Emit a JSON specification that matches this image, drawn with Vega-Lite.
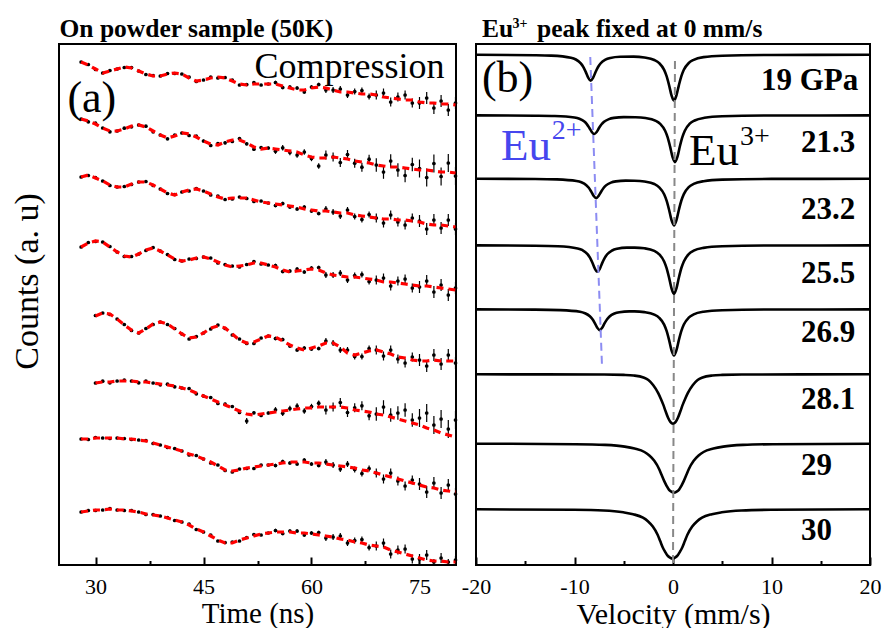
{
"$schema":"https://vega.github.io/schema/vega-lite/v6.json",
"background":"white",
"padding":{"left":9,"top":16,"right":5,"bottom":5},
"bounds":"flush",
"spacing":20,
"config":{"font":"Liberation Serif","view":{"stroke":"black","strokeWidth":2},
"axis":{"labelFont":"Liberation Serif","titleFont":"Liberation Serif","labelColor":"black","titleColor":"black","tickColor":"black","grid":false,"labelFontSize":22,"titleFontSize":30,"titleFontWeight":"normal"}},
"hconcat":[
{"width":397,"height":521,
"data":{"values":[
{"c":1,"t":28,"f":503,"o":503,"e":0.7},{"c":1,"t":29,"f":500,"o":500.5,"e":0.7},{"c":1,"t":30,"f":496,"o":495.5,"e":0.7},{"c":1,"t":31,"f":492,"o":492,"e":0.7},{"c":1,"t":32,"f":494,"o":494.5,"e":0.7},{"c":1,"t":33,"f":496,"o":496,"e":0.7},{"c":1,"t":34,"f":498,"o":497.5,"e":0.7},{"c":1,"t":35,"f":497,"o":497.5,"e":0.7},{"c":1,"t":36,"f":494,"o":494,"e":0.7},{"c":1,"t":37,"f":491,"o":490.5,"e":0.7},{"c":1,"t":38,"f":489,"o":489.5,"e":0.7},{"c":1,"t":39,"f":489,"o":489,"e":0.7},{"c":1,"t":40,"f":491,"o":491.5,"e":0.7},{"c":1,"t":41,"f":492,"o":491.5,"e":0.7},{"c":1,"t":42,"f":491,"o":491,"e":0.7},{"c":1,"t":43,"f":487,"o":488,"e":0.7},{"c":1,"t":44,"f":484,"o":483.5,"e":0.7},{"c":1,"t":45,"f":485,"o":485,"e":1},{"c":1,"t":46,"f":487,"o":488,"e":1},{"c":1,"t":47,"f":488,"o":487,"e":1},{"c":1,"t":48,"f":487,"o":487.5,"e":1},{"c":1,"t":49,"f":484,"o":485,"e":1},{"c":1,"t":50,"f":481,"o":480,"e":1},{"c":1,"t":51,"f":480,"o":480.5,"e":1},{"c":1,"t":52,"f":481,"o":482.5,"e":1},{"c":1,"t":53,"f":481,"o":480,"e":1},{"c":1,"t":54,"f":481,"o":481,"e":1},{"c":1,"t":55,"f":481,"o":482.5,"e":1.8},{"c":1,"t":56,"f":479,"o":477.5,"e":1.8},{"c":1,"t":57,"f":477,"o":478,"e":1.8},{"c":1,"t":58,"f":475,"o":477,"e":1.8},{"c":1,"t":59,"f":475,"o":473,"e":1.8},{"c":1,"t":60,"f":477,"o":478,"e":1.8},{"c":1,"t":61,"f":478,"o":480.5,"e":1.8},{"c":1,"t":62,"f":477,"o":475,"e":3},{"c":1,"t":63,"f":475,"o":475,"e":3},{"c":1,"t":64,"f":473,"o":476,"e":3},{"c":1,"t":65,"f":473,"o":470,"e":3},{"c":1,"t":66,"f":472,"o":473.5,"e":3},{"c":1,"t":67,"f":471,"o":474.5,"e":3},{"c":1,"t":68,"f":471,"o":468.5,"e":3},{"c":1,"t":69,"f":470,"o":470,"e":4.5},{"c":1,"t":70,"f":468,"o":472,"e":4.5},{"c":1,"t":71,"f":467,"o":463,"e":4.5},{"c":1,"t":72,"f":466,"o":468,"e":4.5},{"c":1,"t":73,"f":465,"o":470,"e":4.5},{"c":1,"t":74,"f":465,"o":462,"e":4.5},{"c":1,"t":75,"f":463,"o":462,"e":6},{"c":1,"t":76,"f":462,"o":467,"e":6},{"c":1,"t":77,"f":462,"o":457,"e":6},{"c":1,"t":78,"f":461,"o":464,"e":6},{"c":1,"t":79,"f":461,"o":455,"e":6},{"c":1,"t":80,"f":460,"o":462,"e":6},
{"c":2,"t":28,"f":446,"o":446,"e":1},{"c":2,"t":29,"f":444,"o":443.2,"e":1},{"c":2,"t":30,"f":441,"o":441.8,"e":1},{"c":2,"t":31,"f":437,"o":437,"e":1},{"c":2,"t":32,"f":434,"o":433.2,"e":1},{"c":2,"t":33,"f":434,"o":434,"e":1},{"c":2,"t":34,"f":436,"o":436.8,"e":1},{"c":2,"t":35,"f":439,"o":438.2,"e":1},{"c":2,"t":36,"f":440,"o":440,"e":1},{"c":2,"t":37,"f":438,"o":438.8,"e":1},{"c":2,"t":38,"f":434,"o":433.2,"e":1},{"c":2,"t":39,"f":430,"o":430,"e":1},{"c":2,"t":40,"f":427,"o":426.2,"e":1},{"c":2,"t":41,"f":429,"o":429.8,"e":1},{"c":2,"t":42,"f":432,"o":432,"e":1},{"c":2,"t":43,"f":431,"o":429.5,"e":1},{"c":2,"t":44,"f":428,"o":428.8,"e":1},{"c":2,"t":45,"f":424,"o":424,"e":1.5},{"c":2,"t":46,"f":421,"o":419.5,"e":1.5},{"c":2,"t":47,"f":420,"o":421.5,"e":1.5},{"c":2,"t":48,"f":423,"o":422.2,"e":1.5},{"c":2,"t":49,"f":425,"o":423.5,"e":1.5},{"c":2,"t":50,"f":425,"o":426.5,"e":1.5},{"c":2,"t":51,"f":422,"o":421.2,"e":1.5},{"c":2,"t":52,"f":418,"o":415.8,"e":1.5},{"c":2,"t":53,"f":416,"o":417.5,"e":1.5},{"c":2,"t":54,"f":417,"o":417,"e":1.5},{"c":2,"t":55,"f":416,"o":413.8,"e":2.7},{"c":2,"t":56,"f":415,"o":417.2,"e":2.7},{"c":2,"t":57,"f":414,"o":412.5,"e":2.7},{"c":2,"t":58,"f":413,"o":410,"e":2.7},{"c":2,"t":59,"f":410,"o":413,"e":2.7},{"c":2,"t":60,"f":408,"o":406.5,"e":2.7},{"c":2,"t":61,"f":407,"o":399,"e":2.7},{"c":2,"t":62,"f":407,"o":410,"e":4.5},{"c":2,"t":63,"f":408,"o":408,"e":4.5},{"c":2,"t":64,"f":407,"o":402.5,"e":4.5},{"c":2,"t":65,"f":406,"o":410.5,"e":4.5},{"c":2,"t":66,"f":404,"o":401.8,"e":4.5},{"c":2,"t":67,"f":403,"o":397.8,"e":4.5},{"c":2,"t":68,"f":402,"o":405.8,"e":4.5},{"c":2,"t":69,"f":400,"o":400,"e":6.8},{"c":2,"t":70,"f":399,"o":393,"e":6.8},{"c":2,"t":71,"f":398,"o":404,"e":6.8},{"c":2,"t":72,"f":398,"o":395,"e":6.8},{"c":2,"t":73,"f":397,"o":389.5,"e":6.8},{"c":2,"t":74,"f":396,"o":400.5,"e":6.8},{"c":2,"t":75,"f":395,"o":396.5,"e":9},{"c":2,"t":76,"f":395,"o":387.5,"e":9},{"c":2,"t":77,"f":394,"o":401.5,"e":9},{"c":2,"t":78,"f":393,"o":388.5,"e":9},{"c":2,"t":79,"f":393,"o":402,"e":9},{"c":2,"t":80,"f":392,"o":389,"e":9},
{"c":3,"t":28,"f":388,"o":388,"e":0.7},{"c":3,"t":29,"f":390,"o":389.5,"e":0.7},{"c":3,"t":30,"f":387,"o":387.5,"e":0.7},{"c":3,"t":31,"f":384,"o":384,"e":0.7},{"c":3,"t":32,"f":380,"o":379.5,"e":0.7},{"c":3,"t":33,"f":378,"o":378,"e":0.7},{"c":3,"t":34,"f":378,"o":378.5,"e":0.7},{"c":3,"t":35,"f":381,"o":380.5,"e":0.7},{"c":3,"t":36,"f":383,"o":383,"e":0.7},{"c":3,"t":37,"f":383,"o":383.5,"e":0.7},{"c":3,"t":38,"f":380,"o":379.5,"e":0.7},{"c":3,"t":39,"f":376,"o":376,"e":0.7},{"c":3,"t":40,"f":372,"o":371.5,"e":0.7},{"c":3,"t":41,"f":370,"o":370.5,"e":0.7},{"c":3,"t":42,"f":373,"o":373,"e":0.7},{"c":3,"t":43,"f":375,"o":374,"e":0.7},{"c":3,"t":44,"f":376,"o":376.5,"e":0.7},{"c":3,"t":45,"f":374,"o":374,"e":1},{"c":3,"t":46,"f":371,"o":370,"e":1},{"c":3,"t":47,"f":368,"o":369,"e":1},{"c":3,"t":48,"f":366,"o":365.5,"e":1},{"c":3,"t":49,"f":367,"o":366,"e":1},{"c":3,"t":50,"f":367,"o":368,"e":1},{"c":3,"t":51,"f":367,"o":366.5,"e":1},{"c":3,"t":52,"f":365,"o":363.5,"e":1},{"c":3,"t":53,"f":363,"o":364,"e":1},{"c":3,"t":54,"f":362,"o":362,"e":1},{"c":3,"t":55,"f":361,"o":359.5,"e":1.8},{"c":3,"t":56,"f":360,"o":361.5,"e":1.8},{"c":3,"t":57,"f":359,"o":358,"e":1.8},{"c":3,"t":58,"f":358,"o":356,"e":1.8},{"c":3,"t":59,"f":356,"o":358,"e":1.8},{"c":3,"t":60,"f":355,"o":354,"e":1.8},{"c":3,"t":61,"f":354,"o":351.5,"e":1.8},{"c":3,"t":62,"f":354,"o":356,"e":3},{"c":3,"t":63,"f":353,"o":353,"e":3},{"c":3,"t":64,"f":352,"o":349,"e":3},{"c":3,"t":65,"f":352,"o":355,"e":3},{"c":3,"t":66,"f":350,"o":348.5,"e":3},{"c":3,"t":67,"f":349,"o":345.5,"e":3},{"c":3,"t":68,"f":348,"o":350.5,"e":3},{"c":3,"t":69,"f":347,"o":347,"e":4.5},{"c":3,"t":70,"f":346,"o":342,"e":4.5},{"c":3,"t":71,"f":346,"o":350,"e":4.5},{"c":3,"t":72,"f":345,"o":343,"e":4.5},{"c":3,"t":73,"f":345,"o":340,"e":4.5},{"c":3,"t":74,"f":344,"o":347,"e":4.5},{"c":3,"t":75,"f":343,"o":344,"e":6},{"c":3,"t":76,"f":341,"o":336,"e":6},{"c":3,"t":77,"f":340,"o":345,"e":6},{"c":3,"t":78,"f":340,"o":337,"e":6},{"c":3,"t":79,"f":339,"o":345,"e":6},{"c":3,"t":80,"f":338,"o":336,"e":6},
{"c":4,"t":28,"f":318,"o":318,"e":0.7},{"c":4,"t":29,"f":322,"o":322.5,"e":0.7},{"c":4,"t":30,"f":324,"o":323.5,"e":0.7},{"c":4,"t":31,"f":323,"o":323,"e":0.7},{"c":4,"t":32,"f":318,"o":318.5,"e":0.7},{"c":4,"t":33,"f":313,"o":313,"e":0.7},{"c":4,"t":34,"f":309,"o":308.5,"e":0.7},{"c":4,"t":35,"f":308,"o":308.5,"e":0.7},{"c":4,"t":36,"f":311,"o":311,"e":0.7},{"c":4,"t":37,"f":315,"o":314.5,"e":0.7},{"c":4,"t":38,"f":317,"o":317.5,"e":0.7},{"c":4,"t":39,"f":314,"o":314,"e":0.7},{"c":4,"t":40,"f":310,"o":310.5,"e":0.7},{"c":4,"t":41,"f":306,"o":305.5,"e":0.7},{"c":4,"t":42,"f":304,"o":304,"e":0.7},{"c":4,"t":43,"f":305,"o":306,"e":0.7},{"c":4,"t":44,"f":307,"o":306.5,"e":0.7},{"c":4,"t":45,"f":308,"o":308,"e":1},{"c":4,"t":46,"f":306,"o":307,"e":1},{"c":4,"t":47,"f":303,"o":302,"e":1},{"c":4,"t":48,"f":300,"o":300.5,"e":1},{"c":4,"t":49,"f":298,"o":299,"e":1},{"c":4,"t":50,"f":299,"o":298,"e":1},{"c":4,"t":51,"f":300,"o":300.5,"e":1},{"c":4,"t":52,"f":302,"o":303.5,"e":1},{"c":4,"t":53,"f":302,"o":301,"e":1},{"c":4,"t":54,"f":300,"o":300,"e":1},{"c":4,"t":55,"f":298,"o":299.5,"e":1.8},{"c":4,"t":56,"f":295,"o":293.5,"e":1.8},{"c":4,"t":57,"f":293,"o":294,"e":1.8},{"c":4,"t":58,"f":294,"o":296,"e":1.8},{"c":4,"t":59,"f":295,"o":293,"e":1.8},{"c":4,"t":60,"f":296,"o":297,"e":1.8},{"c":4,"t":61,"f":295,"o":297.5,"e":1.8},{"c":4,"t":62,"f":292,"o":290,"e":3},{"c":4,"t":63,"f":290,"o":290,"e":3},{"c":4,"t":64,"f":289,"o":292,"e":3},{"c":4,"t":65,"f":288,"o":285,"e":3},{"c":4,"t":66,"f":288,"o":289.5,"e":3},{"c":4,"t":67,"f":287,"o":290.5,"e":3},{"c":4,"t":68,"f":286,"o":283.5,"e":3},{"c":4,"t":69,"f":285,"o":285,"e":4.5},{"c":4,"t":70,"f":283,"o":287,"e":4.5},{"c":4,"t":71,"f":283,"o":279,"e":4.5},{"c":4,"t":72,"f":282,"o":284,"e":4.5},{"c":4,"t":73,"f":281,"o":286,"e":4.5},{"c":4,"t":74,"f":280,"o":277,"e":4.5},{"c":4,"t":75,"f":279,"o":278,"e":6},{"c":4,"t":76,"f":279,"o":284,"e":6},{"c":4,"t":77,"f":278,"o":273,"e":6},{"c":4,"t":78,"f":277,"o":280,"e":6},{"c":4,"t":79,"f":276,"o":270,"e":6},{"c":4,"t":80,"f":275,"o":277,"e":6},
{"c":5,"t":30,"f":249,"o":249.5,"e":0.7},{"c":5,"t":31,"f":252,"o":252,"e":0.7},{"c":5,"t":32,"f":251,"o":250.5,"e":0.7},{"c":5,"t":33,"f":246,"o":246,"e":0.7},{"c":5,"t":34,"f":240,"o":240.5,"e":0.7},{"c":5,"t":35,"f":235,"o":234.5,"e":0.7},{"c":5,"t":36,"f":232,"o":232,"e":0.7},{"c":5,"t":37,"f":236,"o":236.5,"e":0.7},{"c":5,"t":38,"f":241,"o":240.5,"e":0.7},{"c":5,"t":39,"f":243,"o":243,"e":0.7},{"c":5,"t":40,"f":241,"o":240.5,"e":0.7},{"c":5,"t":41,"f":236,"o":236.5,"e":0.7},{"c":5,"t":42,"f":231,"o":231,"e":0.7},{"c":5,"t":43,"f":227,"o":226,"e":0.7},{"c":5,"t":44,"f":228,"o":228.5,"e":0.7},{"c":5,"t":45,"f":232,"o":232,"e":1},{"c":5,"t":46,"f":237,"o":236,"e":1},{"c":5,"t":47,"f":239,"o":240,"e":1},{"c":5,"t":48,"f":237,"o":236.5,"e":1},{"c":5,"t":49,"f":231,"o":230,"e":1},{"c":5,"t":50,"f":225,"o":226,"e":1},{"c":5,"t":51,"f":222,"o":221.5,"e":1},{"c":5,"t":52,"f":223,"o":221.5,"e":1},{"c":5,"t":53,"f":226,"o":227,"e":1},{"c":5,"t":54,"f":229,"o":229,"e":1},{"c":5,"t":55,"f":228,"o":226.5,"e":1.8},{"c":5,"t":56,"f":224,"o":225.5,"e":1.8},{"c":5,"t":57,"f":220,"o":219,"e":1.8},{"c":5,"t":58,"f":217,"o":215,"e":1.8},{"c":5,"t":59,"f":215,"o":217,"e":1.8},{"c":5,"t":60,"f":217,"o":216,"e":1.8},{"c":5,"t":61,"f":219,"o":216.5,"e":1.8},{"c":5,"t":62,"f":222,"o":224,"e":3},{"c":5,"t":63,"f":222,"o":222,"e":3},{"c":5,"t":64,"f":218,"o":215,"e":3},{"c":5,"t":65,"f":212,"o":215,"e":3},{"c":5,"t":66,"f":210,"o":208.5,"e":3},{"c":5,"t":67,"f":212,"o":208.5,"e":3},{"c":5,"t":68,"f":214,"o":216.5,"e":3},{"c":5,"t":69,"f":215,"o":215,"e":4.5},{"c":5,"t":70,"f":213,"o":209,"e":4.5},{"c":5,"t":71,"f":211,"o":215,"e":4.5},{"c":5,"t":72,"f":208,"o":206,"e":4.5},{"c":5,"t":73,"f":207,"o":202,"e":4.5},{"c":5,"t":74,"f":205,"o":208,"e":4.5},{"c":5,"t":75,"f":204,"o":205,"e":6},{"c":5,"t":76,"f":204,"o":199,"e":6},{"c":5,"t":77,"f":205,"o":210,"e":6},{"c":5,"t":78,"f":204,"o":201,"e":6},{"c":5,"t":79,"f":204,"o":210,"e":6},{"c":5,"t":80,"f":204,"o":202,"e":6},
{"c":6,"t":30,"f":182,"o":182,"e":1},{"c":6,"t":31,"f":183,"o":183.8,"e":1},{"c":6,"t":32,"f":183,"o":182.2,"e":1},{"c":6,"t":33,"f":184,"o":184,"e":1},{"c":6,"t":34,"f":184,"o":184.8,"e":1},{"c":6,"t":35,"f":184,"o":184,"e":1},{"c":6,"t":36,"f":183,"o":182.2,"e":1},{"c":6,"t":37,"f":183,"o":183.8,"e":1},{"c":6,"t":38,"f":182,"o":182,"e":1},{"c":6,"t":39,"f":181,"o":180.2,"e":1},{"c":6,"t":40,"f":180,"o":180.8,"e":1},{"c":6,"t":41,"f":179,"o":178.2,"e":1},{"c":6,"t":42,"f":177,"o":177,"e":1},{"c":6,"t":43,"f":175,"o":176.5,"e":1},{"c":6,"t":44,"f":172,"o":171.2,"e":1},{"c":6,"t":45,"f":169,"o":169,"e":1.5},{"c":6,"t":46,"f":166,"o":167.5,"e":1.5},{"c":6,"t":47,"f":163,"o":161.5,"e":1.5},{"c":6,"t":48,"f":160,"o":160.8,"e":1.5},{"c":6,"t":49,"f":157,"o":158.5,"e":1.5},{"c":6,"t":50,"f":154,"o":152.5,"e":1.5},{"c":6,"t":51,"f":151,"o":144,"e":3},{"c":6,"t":52,"f":150,"o":152.2,"e":1.5},{"c":6,"t":53,"f":151,"o":149.5,"e":1.5},{"c":6,"t":54,"f":152,"o":152,"e":1.5},{"c":6,"t":55,"f":153,"o":155.2,"e":2.7},{"c":6,"t":56,"f":154,"o":151.8,"e":2.7},{"c":6,"t":57,"f":155,"o":156.5,"e":2.7},{"c":6,"t":58,"f":156,"o":159,"e":2.7},{"c":6,"t":59,"f":157,"o":154,"e":2.7},{"c":6,"t":60,"f":157,"o":158.5,"e":2.7},{"c":6,"t":61,"f":158,"o":161.8,"e":2.7},{"c":6,"t":62,"f":158,"o":155,"e":4.5},{"c":6,"t":63,"f":158,"o":158,"e":4.5},{"c":6,"t":64,"f":158,"o":162.5,"e":4.5},{"c":6,"t":65,"f":157,"o":152.5,"e":4.5},{"c":6,"t":66,"f":155,"o":157.2,"e":4.5},{"c":6,"t":67,"f":154,"o":159.2,"e":4.5},{"c":6,"t":68,"f":153,"o":149.2,"e":4.5},{"c":6,"t":69,"f":151,"o":151,"e":6.8},{"c":6,"t":70,"f":150,"o":158,"e":6.8},{"c":6,"t":71,"f":148,"o":150,"e":6.8},{"c":6,"t":72,"f":146,"o":152,"e":6.8},{"c":6,"t":73,"f":144,"o":155,"e":6.8},{"c":6,"t":74,"f":142,"o":145,"e":6.8},{"c":6,"t":75,"f":140,"o":147,"e":9},{"c":6,"t":76,"f":137,"o":152,"e":9},{"c":6,"t":77,"f":135,"o":140,"e":9},{"c":6,"t":78,"f":132,"o":146,"e":9},{"c":6,"t":79,"f":130,"o":136,"e":9},{"c":6,"t":80,"f":128,"o":145,"e":9},
{"c":7,"t":28,"f":126,"o":126,"e":0.7},{"c":7,"t":29,"f":126,"o":125.5,"e":0.7},{"c":7,"t":30,"f":127,"o":127.5,"e":0.7},{"c":7,"t":31,"f":127,"o":127,"e":0.7},{"c":7,"t":32,"f":127,"o":126.5,"e":0.7},{"c":7,"t":33,"f":127,"o":127,"e":0.7},{"c":7,"t":34,"f":126,"o":126.5,"e":0.7},{"c":7,"t":35,"f":126,"o":125.5,"e":0.7},{"c":7,"t":36,"f":125,"o":125,"e":0.7},{"c":7,"t":37,"f":124,"o":124.5,"e":0.7},{"c":7,"t":38,"f":122,"o":121.5,"e":0.7},{"c":7,"t":39,"f":120,"o":120,"e":0.7},{"c":7,"t":40,"f":118,"o":117.5,"e":0.7},{"c":7,"t":41,"f":116,"o":116.5,"e":0.7},{"c":7,"t":42,"f":114,"o":114,"e":0.7},{"c":7,"t":43,"f":111,"o":110,"e":0.7},{"c":7,"t":44,"f":109,"o":109.5,"e":0.7},{"c":7,"t":45,"f":106,"o":106,"e":1},{"c":7,"t":46,"f":103,"o":102,"e":1},{"c":7,"t":47,"f":99,"o":100,"e":1},{"c":7,"t":48,"f":95,"o":94.5,"e":1},{"c":7,"t":49,"f":94,"o":93,"e":1},{"c":7,"t":50,"f":95,"o":96,"e":1},{"c":7,"t":51,"f":97,"o":96.5,"e":1},{"c":7,"t":52,"f":98,"o":96.5,"e":1},{"c":7,"t":53,"f":99,"o":100,"e":1},{"c":7,"t":54,"f":100,"o":100,"e":1},{"c":7,"t":55,"f":101,"o":99.5,"e":1.8},{"c":7,"t":56,"f":102,"o":103.5,"e":1.8},{"c":7,"t":57,"f":103,"o":102,"e":1.8},{"c":7,"t":58,"f":103,"o":101,"e":1.8},{"c":7,"t":59,"f":103,"o":105,"e":1.8},{"c":7,"t":60,"f":102,"o":101,"e":1.8},{"c":7,"t":61,"f":102,"o":99.5,"e":1.8},{"c":7,"t":62,"f":101,"o":103,"e":3},{"c":7,"t":63,"f":100,"o":100,"e":3},{"c":7,"t":64,"f":99,"o":96,"e":3},{"c":7,"t":65,"f":98,"o":101,"e":3},{"c":7,"t":66,"f":97,"o":95.5,"e":3},{"c":7,"t":67,"f":95,"o":91.5,"e":3},{"c":7,"t":68,"f":94,"o":96.5,"e":3},{"c":7,"t":69,"f":92,"o":92,"e":4.5},{"c":7,"t":70,"f":90,"o":86,"e":4.5},{"c":7,"t":71,"f":88,"o":92,"e":4.5},{"c":7,"t":72,"f":86,"o":84,"e":4.5},{"c":7,"t":73,"f":84,"o":79,"e":4.5},{"c":7,"t":74,"f":82,"o":85,"e":4.5},{"c":7,"t":75,"f":80,"o":81,"e":6},{"c":7,"t":76,"f":78,"o":73,"e":6},{"c":7,"t":77,"f":77,"o":82,"e":6},{"c":7,"t":78,"f":75,"o":72,"e":6},{"c":7,"t":79,"f":74,"o":80,"e":6},{"c":7,"t":80,"f":73,"o":71,"e":6},
{"c":8,"t":28,"f":53,"o":53,"e":0.7},{"c":8,"t":29,"f":54,"o":54.5,"e":0.7},{"c":8,"t":30,"f":55,"o":54.5,"e":0.7},{"c":8,"t":31,"f":55,"o":55,"e":0.7},{"c":8,"t":32,"f":56,"o":56.5,"e":0.7},{"c":8,"t":33,"f":55,"o":55,"e":0.7},{"c":8,"t":34,"f":55,"o":54.5,"e":0.7},{"c":8,"t":35,"f":54,"o":54.5,"e":0.7},{"c":8,"t":36,"f":53,"o":53,"e":0.7},{"c":8,"t":37,"f":51,"o":50.5,"e":0.7},{"c":8,"t":38,"f":50,"o":50.5,"e":0.7},{"c":8,"t":39,"f":49,"o":49,"e":0.7},{"c":8,"t":40,"f":47,"o":47.5,"e":0.7},{"c":8,"t":41,"f":45,"o":44.5,"e":0.7},{"c":8,"t":42,"f":43,"o":43,"e":0.7},{"c":8,"t":43,"f":40,"o":41,"e":0.7},{"c":8,"t":44,"f":36,"o":35.5,"e":0.7},{"c":8,"t":45,"f":33,"o":33,"e":1},{"c":8,"t":46,"f":29,"o":30,"e":1},{"c":8,"t":47,"f":25,"o":24,"e":1},{"c":8,"t":48,"f":22,"o":22.5,"e":1},{"c":8,"t":49,"f":22,"o":23,"e":1},{"c":8,"t":50,"f":25,"o":24,"e":1},{"c":8,"t":51,"f":27,"o":27.5,"e":1},{"c":8,"t":52,"f":29,"o":30.5,"e":1},{"c":8,"t":53,"f":31,"o":30,"e":1},{"c":8,"t":54,"f":32,"o":32,"e":1},{"c":8,"t":55,"f":33,"o":34.5,"e":1.8},{"c":8,"t":56,"f":33,"o":31.5,"e":1.8},{"c":8,"t":57,"f":33,"o":34,"e":1.8},{"c":8,"t":58,"f":32,"o":34,"e":1.8},{"c":8,"t":59,"f":32,"o":30,"e":1.8},{"c":8,"t":60,"f":31,"o":32,"e":1.8},{"c":8,"t":61,"f":30,"o":32.5,"e":1.8},{"c":8,"t":62,"f":29,"o":27,"e":3},{"c":8,"t":63,"f":28,"o":28,"e":3},{"c":8,"t":64,"f":26,"o":29,"e":3},{"c":8,"t":65,"f":25,"o":22,"e":3},{"c":8,"t":66,"f":23,"o":24.5,"e":3},{"c":8,"t":67,"f":22,"o":25.5,"e":3},{"c":8,"t":68,"f":20,"o":17.5,"e":3},{"c":8,"t":69,"f":19,"o":19,"e":4.5},{"c":8,"t":70,"f":18,"o":22,"e":4.5},{"c":8,"t":71,"f":15,"o":11,"e":4.5},{"c":8,"t":72,"f":13,"o":15,"e":4.5},{"c":8,"t":73,"f":11,"o":16,"e":4.5},{"c":8,"t":74,"f":9,"o":6,"e":4.5},{"c":8,"t":75,"f":7,"o":6,"e":5},{"c":8,"t":76,"f":5,"o":10,"e":5},{"c":8,"t":77,"f":4,"o":3,"e":3},{"c":8,"t":78,"f":4,"o":7,"e":5},{"c":8,"t":79,"f":3,"o":3,"e":3},{"c":8,"t":80,"f":3,"o":5,"e":4}
]},
"encoding":{
"x":{"field":"t","type":"quantitative","scale":{"domain":[24.93,80.07],"nice":false,"zero":false},
"axis":{"title":"Time (ns)","values":[30,37.5,45,52.5,60,67.5,75],"labelExpr":"datum.value % 15 === 0 ? datum.label : ''","tickSize":{"condition":{"test":"datum.value % 15 === 0","value":-8},"value":-4.5},"tickWidth":2,"domain":false,"labelBaseline":"alphabetic","labelPadding":36,"labelFlush":false,"titleBaseline":"alphabetic","titleY":57,"titleFontSize":29}},
"y":{"field":"o","type":"quantitative","scale":{"domain":[0,521],"nice":false,"zero":false},
"axis":{"title":"Counts (a. u)","labels":false,"ticks":false,"domain":false,"titleFontSize":34,"titleX":-21.5,"titleY":237,"titleBaseline":"alphabetic","titleAngle":-90,"titleAlign":"center"}}
},
"layer":[
{"mark":{"type":"errorbar","color":"black","thickness":1.2},"encoding":{"yError":{"field":"e"}}},
{"mark":{"type":"circle","color":"black","size":14,"opacity":1}},
{"mark":{"type":"line","color":"#ff0000","strokeDash":[7,5],"strokeWidth":3.2},"encoding":{"y":{"field":"f","type":"quantitative","title":"Counts (a. u)"},"detail":{"field":"c"}}},
{"data":{"values":[{"t":26.1,"o":453,"txt":"(a)"}]},"mark":{"type":"text","align":"left","baseline":"alphabetic","fontSize":44,"font":"Liberation Serif","color":"black"},"encoding":{"text":{"field":"txt"}}},
{"data":{"values":[{"t":78.47,"o":487,"txt":"Compression"}]},"mark":{"type":"text","align":"right","baseline":"alphabetic","fontSize":36,"font":"Liberation Serif","color":"black"},"encoding":{"text":{"field":"txt"}}},
{"data":{"values":[{"t":25.0,"o":528,"txt":"On powder sample (50K)"}]},"mark":{"type":"text","align":"left","baseline":"alphabetic","fontSize":25.5,"fontWeight":"bold","font":"Liberation Serif","color":"black"},"encoding":{"text":{"field":"txt"}}}
]},
{"width":394,"height":521,
"data":{"values":[
{"s":1,"v":-20,"y":510.2},{"s":1,"v":-14,"y":509.8},{"s":1,"v":-12.36,"y":509.4},{"s":1,"v":-10.36,"y":507.3},{"s":1,"v":-9.86,"y":505.5},{"s":1,"v":-9.36,"y":501.6},{"s":1,"v":-9.11,"y":498.1},{"s":1,"v":-8.86,"y":493.1},{"s":1,"v":-8.61,"y":487.3},{"s":1,"v":-8.36,"y":484.4},{"s":1,"v":-8.11,"y":487.3},{"s":1,"v":-7.86,"y":493.0},{"s":1,"v":-7.61,"y":498.0},{"s":1,"v":-7.36,"y":501.5},{"s":1,"v":-6.86,"y":505.3},{"s":1,"v":-6.36,"y":507.0},{"s":1,"v":-5.36,"y":508.2},{"s":1,"v":-4,"y":508.4},{"s":1,"v":-2.9,"y":507.5},{"s":1,"v":-1.9,"y":505.0},{"s":1,"v":-1.4,"y":501.9},{"s":1,"v":-0.9,"y":495.1},{"s":1,"v":-0.65,"y":488.8},{"s":1,"v":-0.4,"y":479.9},{"s":1,"v":-0.15,"y":469.7},{"s":1,"v":0.1,"y":464.5},{"s":1,"v":0.35,"y":469.7},{"s":1,"v":0.6,"y":479.9},{"s":1,"v":0.85,"y":488.9},{"s":1,"v":1.1,"y":495.2},{"s":1,"v":1.6,"y":502.0},{"s":1,"v":2.1,"y":505.2},{"s":1,"v":3.1,"y":507.9},{"s":1,"v":5,"y":509.3},{"s":1,"v":10,"y":510.0},{"s":1,"v":20,"y":510.2},
{"s":2,"v":-20,"y":449.6},{"s":2,"v":-14,"y":449.3},{"s":2,"v":-12,"y":449.0},{"s":2,"v":-10,"y":447.5},{"s":2,"v":-9.5,"y":446.2},{"s":2,"v":-9,"y":443.4},{"s":2,"v":-8.75,"y":440.9},{"s":2,"v":-8.5,"y":437.2},{"s":2,"v":-8.25,"y":433.1},{"s":2,"v":-8,"y":431.0},{"s":2,"v":-7.75,"y":433.0},{"s":2,"v":-7.5,"y":437.2},{"s":2,"v":-7.25,"y":440.7},{"s":2,"v":-7,"y":443.2},{"s":2,"v":-6.5,"y":445.9},{"s":2,"v":-6,"y":447.1},{"s":2,"v":-5,"y":447.9},{"s":2,"v":-3.8,"y":447.8},{"s":2,"v":-2.8,"y":447.0},{"s":2,"v":-1.8,"y":444.4},{"s":2,"v":-1.3,"y":441.1},{"s":2,"v":-0.8,"y":434.2},{"s":2,"v":-0.55,"y":427.8},{"s":2,"v":-0.3,"y":418.6},{"s":2,"v":-0.05,"y":408.1},{"s":2,"v":0.2,"y":402.9},{"s":2,"v":0.45,"y":408.2},{"s":2,"v":0.7,"y":418.7},{"s":2,"v":0.95,"y":427.8},{"s":2,"v":1.2,"y":434.2},{"s":2,"v":1.7,"y":441.3},{"s":2,"v":2.2,"y":444.5},{"s":2,"v":3.2,"y":447.2},{"s":2,"v":5,"y":448.7},{"s":2,"v":10,"y":449.5},{"s":2,"v":20,"y":449.6},
{"s":3,"v":-20,"y":386.2},{"s":3,"v":-14,"y":386.0},{"s":3,"v":-11.8,"y":385.6},{"s":3,"v":-9.8,"y":384.0},{"s":3,"v":-9.3,"y":382.7},{"s":3,"v":-8.8,"y":379.8},{"s":3,"v":-8.55,"y":377.2},{"s":3,"v":-8.3,"y":373.4},{"s":3,"v":-8.05,"y":369.1},{"s":3,"v":-7.8,"y":366.9},{"s":3,"v":-7.55,"y":369.1},{"s":3,"v":-7.3,"y":373.3},{"s":3,"v":-7.05,"y":377.0},{"s":3,"v":-6.8,"y":379.6},{"s":3,"v":-6.3,"y":382.4},{"s":3,"v":-5.8,"y":383.6},{"s":3,"v":-4.8,"y":384.4},{"s":3,"v":-3.9,"y":384.3},{"s":3,"v":-2.9,"y":383.5},{"s":3,"v":-1.9,"y":381.0},{"s":3,"v":-1.4,"y":377.7},{"s":3,"v":-0.9,"y":370.8},{"s":3,"v":-0.65,"y":364.4},{"s":3,"v":-0.4,"y":355.3},{"s":3,"v":-0.15,"y":344.8},{"s":3,"v":0.1,"y":339.6},{"s":3,"v":0.35,"y":344.9},{"s":3,"v":0.6,"y":355.3},{"s":3,"v":0.85,"y":364.5},{"s":3,"v":1.1,"y":370.9},{"s":3,"v":1.6,"y":377.9},{"s":3,"v":2.1,"y":381.1},{"s":3,"v":3.1,"y":383.8},{"s":3,"v":5,"y":385.4},{"s":3,"v":10,"y":386.1},{"s":3,"v":20,"y":386.2},
{"s":4,"v":-20,"y":319.6},{"s":4,"v":-14,"y":319.3},{"s":4,"v":-11.68,"y":318.8},{"s":4,"v":-9.68,"y":316.6},{"s":4,"v":-9.18,"y":314.8},{"s":4,"v":-8.68,"y":310.9},{"s":4,"v":-8.43,"y":307.3},{"s":4,"v":-8.18,"y":302.2},{"s":4,"v":-7.93,"y":296.3},{"s":4,"v":-7.68,"y":293.3},{"s":4,"v":-7.43,"y":296.2},{"s":4,"v":-7.18,"y":302.1},{"s":4,"v":-6.93,"y":307.1},{"s":4,"v":-6.68,"y":310.7},{"s":4,"v":-6.18,"y":314.5},{"s":4,"v":-5.68,"y":316.2},{"s":4,"v":-4.68,"y":317.4},{"s":4,"v":-3.9,"y":317.4},{"s":4,"v":-2.9,"y":316.7},{"s":4,"v":-1.9,"y":314.1},{"s":4,"v":-1.4,"y":310.7},{"s":4,"v":-0.9,"y":303.5},{"s":4,"v":-0.65,"y":296.9},{"s":4,"v":-0.4,"y":287.4},{"s":4,"v":-0.15,"y":276.6},{"s":4,"v":0.1,"y":271.1},{"s":4,"v":0.35,"y":276.6},{"s":4,"v":0.6,"y":287.5},{"s":4,"v":0.85,"y":297.0},{"s":4,"v":1.1,"y":303.6},{"s":4,"v":1.6,"y":310.9},{"s":4,"v":2.1,"y":314.3},{"s":4,"v":3.1,"y":317.1},{"s":4,"v":5,"y":318.7},{"s":4,"v":10,"y":319.5},{"s":4,"v":20,"y":319.6},
{"s":5,"v":-20,"y":255.6},{"s":5,"v":-14,"y":255.4},{"s":5,"v":-11.44,"y":254.9},{"s":5,"v":-9.44,"y":253.3},{"s":5,"v":-8.94,"y":251.8},{"s":5,"v":-8.44,"y":248.7},{"s":5,"v":-8.19,"y":245.9},{"s":5,"v":-7.94,"y":241.9},{"s":5,"v":-7.69,"y":237.3},{"s":5,"v":-7.44,"y":234.9},{"s":5,"v":-7.19,"y":237.2},{"s":5,"v":-6.94,"y":241.8},{"s":5,"v":-6.69,"y":245.7},{"s":5,"v":-6.44,"y":248.5},{"s":5,"v":-5.94,"y":251.5},{"s":5,"v":-5.44,"y":252.8},{"s":5,"v":-4.44,"y":253.6},{"s":5,"v":-3.9,"y":253.6},{"s":5,"v":-2.9,"y":252.9},{"s":5,"v":-1.9,"y":250.4},{"s":5,"v":-1.4,"y":247.2},{"s":5,"v":-0.9,"y":240.4},{"s":5,"v":-0.65,"y":234.1},{"s":5,"v":-0.4,"y":225.1},{"s":5,"v":-0.15,"y":214.7},{"s":5,"v":0.1,"y":209.6},{"s":5,"v":0.35,"y":214.8},{"s":5,"v":0.6,"y":225.1},{"s":5,"v":0.85,"y":234.1},{"s":5,"v":1.1,"y":240.5},{"s":5,"v":1.6,"y":247.4},{"s":5,"v":2.1,"y":250.6},{"s":5,"v":3.1,"y":253.3},{"s":5,"v":5,"y":254.8},{"s":5,"v":10,"y":255.5},{"s":5,"v":20,"y":255.6},
{"s":6,"v":-20,"y":190.7},{"s":6,"v":-7,"y":190.5},{"s":6,"v":-5,"y":190.1},{"s":6,"v":-4,"y":189.5},{"s":6,"v":-3,"y":187.5},{"s":6,"v":-2.5,"y":185.0},{"s":6,"v":-2,"y":179.8},{"s":6,"v":-1.5,"y":171.9},{"s":6,"v":-1.25,"y":166.5},{"s":6,"v":-1,"y":160.6},{"s":6,"v":-0.75,"y":153.7},{"s":6,"v":-0.5,"y":147.2},{"s":6,"v":-0.25,"y":142.8},{"s":6,"v":0,"y":141.3},{"s":6,"v":0.25,"y":142.8},{"s":6,"v":0.5,"y":147.2},{"s":6,"v":0.75,"y":153.7},{"s":6,"v":1,"y":160.6},{"s":6,"v":1.25,"y":166.5},{"s":6,"v":1.5,"y":171.9},{"s":6,"v":2,"y":179.8},{"s":6,"v":2.5,"y":185.0},{"s":6,"v":3,"y":187.5},{"s":6,"v":4,"y":189.5},{"s":6,"v":5,"y":190.1},{"s":6,"v":7,"y":190.5},{"s":6,"v":20,"y":190.7},
{"s":7,"v":-20,"y":121.3},{"s":7,"v":-9.9,"y":120.8},{"s":7,"v":-6.9,"y":120.1},{"s":7,"v":-4.9,"y":118.4},{"s":7,"v":-3.9,"y":116.4},{"s":7,"v":-2.9,"y":113.0},{"s":7,"v":-2.4,"y":109.5},{"s":7,"v":-1.9,"y":104.2},{"s":7,"v":-1.4,"y":95.8},{"s":7,"v":-1.15,"y":89.9},{"s":7,"v":-0.9,"y":84.1},{"s":7,"v":-0.65,"y":79.2},{"s":7,"v":-0.4,"y":75.2},{"s":7,"v":-0.15,"y":73.3},{"s":7,"v":0.1,"y":72.3},{"s":7,"v":0.35,"y":73.3},{"s":7,"v":0.6,"y":75.2},{"s":7,"v":0.85,"y":79.2},{"s":7,"v":1.1,"y":84.1},{"s":7,"v":1.35,"y":89.9},{"s":7,"v":1.6,"y":95.8},{"s":7,"v":2.1,"y":104.2},{"s":7,"v":2.6,"y":109.5},{"s":7,"v":3.1,"y":113.0},{"s":7,"v":4.1,"y":116.4},{"s":7,"v":5.1,"y":118.4},{"s":7,"v":7.1,"y":120.1},{"s":7,"v":10.1,"y":120.8},{"s":7,"v":20,"y":121.3},
{"s":8,"v":-20,"y":55.7},{"s":8,"v":-10.05,"y":55.2},{"s":8,"v":-7.05,"y":54.5},{"s":8,"v":-5.05,"y":52.7},{"s":8,"v":-4.05,"y":50.8},{"s":8,"v":-3.05,"y":47.3},{"s":8,"v":-2.55,"y":43.8},{"s":8,"v":-2.05,"y":38.4},{"s":8,"v":-1.55,"y":30.0},{"s":8,"v":-1.3,"y":23.9},{"s":8,"v":-1.05,"y":17.8},{"s":8,"v":-0.8,"y":13.2},{"s":8,"v":-0.55,"y":9.3},{"s":8,"v":-0.3,"y":7.3},{"s":8,"v":-0.05,"y":6.3},{"s":8,"v":0.2,"y":7.3},{"s":8,"v":0.45,"y":9.3},{"s":8,"v":0.7,"y":13.2},{"s":8,"v":0.95,"y":17.8},{"s":8,"v":1.2,"y":23.9},{"s":8,"v":1.45,"y":30.0},{"s":8,"v":1.95,"y":38.4},{"s":8,"v":2.45,"y":43.8},{"s":8,"v":2.95,"y":47.3},{"s":8,"v":3.95,"y":50.8},{"s":8,"v":4.95,"y":52.7},{"s":8,"v":6.95,"y":54.5},{"s":8,"v":9.95,"y":55.2},{"s":8,"v":20,"y":55.7}
]},
"encoding":{
"x":{"field":"v","type":"quantitative","scale":{"domain":[-20,20],"nice":false,"zero":false},
"axis":{"title":"Velocity (mm/s)","values":[-20,-15,-10,-5,0,5,10,15,20],"labelExpr":"datum.value % 10 === 0 ? toString(datum.value) : ''","tickSize":{"condition":{"test":"datum.value % 10 === 0","value":-8},"value":-4.5},"tickWidth":2,"domain":false,"labelBaseline":"alphabetic","labelPadding":36,"labelFlush":false,"titleBaseline":"alphabetic","titleY":58,"titleFontSize":30}},
"y":{"field":"y","type":"quantitative","scale":{"domain":[0,521],"nice":false,"zero":false},"axis":null}
},
"layer":[
{"mark":{"type":"line","color":"black","strokeWidth":2.6,"interpolate":"monotone"},"encoding":{"detail":{"field":"s"}}},
{"data":{"values":[{"v":-8.4,"y":508},{"v":-7.2,"y":197}]},"mark":{"type":"line","color":"#8c8cf2","strokeDash":[8,5],"strokeWidth":2},"encoding":{}},
{"data":{"values":[{"v":0.2,"y":506},{"v":0.0,"y":2}]},"mark":{"type":"line","color":"#888888","strokeDash":[8,5],"strokeWidth":2},"encoding":{}},
{"data":{"values":[{"v":-19.4,"y":473,"txt":"(b)"}]},"mark":{"type":"text","align":"left","baseline":"alphabetic","fontSize":44,"font":"Liberation Serif","color":"black"},"encoding":{"text":{"field":"txt"}}},
{"data":{"values":[{"v":8.93,"y":474.7,"txt":"19 GPa"},{"v":13.0,"y":413,"txt":"21.3"},{"v":13.0,"y":346.3,"txt":"23.2"},{"v":13.0,"y":282.3,"txt":"25.5"},{"v":13.0,"y":223,"txt":"26.9"},{"v":13.0,"y":156.3,"txt":"28.1"},{"v":13.0,"y":89.7,"txt":"29"},{"v":13.0,"y":24.7,"txt":"30"}]},"mark":{"type":"text","align":"left","baseline":"alphabetic","fontSize":31,"fontWeight":"bold","font":"Liberation Serif","color":"black"},"encoding":{"text":{"field":"txt"}}},
{"data":{"values":[{"v":-17.46,"y":405,"txt":"Eu"}]},"mark":{"type":"text","align":"left","baseline":"alphabetic","fontSize":45,"font":"Liberation Serif","color":"#4646ee"},"encoding":{"text":{"field":"txt"}}},
{"data":{"values":[{"v":-12.3,"y":426.3,"txt":"2+"}]},"mark":{"type":"text","align":"left","baseline":"alphabetic","fontSize":28,"font":"Liberation Serif","color":"#4646ee"},"encoding":{"text":{"field":"txt"}}},
{"data":{"values":[{"v":1.62,"y":399.7,"txt":"Eu"}]},"mark":{"type":"text","align":"left","baseline":"alphabetic","fontSize":45,"font":"Liberation Serif","color":"black"},"encoding":{"text":{"field":"txt"}}},
{"data":{"values":[{"v":6.8,"y":419.7,"txt":"3+"}]},"mark":{"type":"text","align":"left","baseline":"alphabetic","fontSize":28,"font":"Liberation Serif","color":"black"},"encoding":{"text":{"field":"txt"}}},
{"data":{"values":[{"v":-19.39,"y":528,"txt":"Eu"},{"v":-13.8,"y":528,"txt":"peak fixed at 0 mm/s"}]},"mark":{"type":"text","align":"left","baseline":"alphabetic","fontSize":25.5,"fontWeight":"bold","font":"Liberation Serif","color":"black"},"encoding":{"text":{"field":"txt"}}},
{"data":{"values":[{"v":-16.3,"y":537,"txt":"3+"}]},"mark":{"type":"text","align":"left","baseline":"alphabetic","fontSize":14,"fontWeight":"bold","font":"Liberation Serif","color":"black"},"encoding":{"text":{"field":"txt"}}}
]}
]}
